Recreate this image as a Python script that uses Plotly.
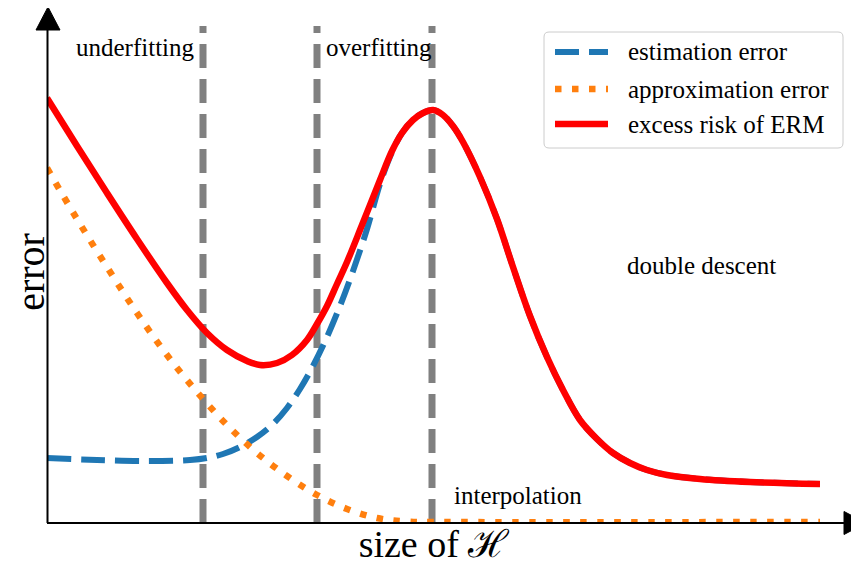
import plotly.graph_objects as go

# ---------------- data ----------------
# x: size of hypothesis class (arbitrary units), y: error (arbitrary units)
red_x = [0, 30, 60, 90, 120, 140, 160, 180, 200, 213, 230, 245, 260, 270, 280, 290,
         300, 315, 333, 345, 355, 366, 376, 386, 396, 406, 416, 433, 450, 466, 483,
         500, 516, 533, 550, 566, 583, 600, 620, 653, 703, 773]
red_y = [425, 377, 330, 284, 240, 213, 190, 173, 162, 158, 160, 168, 183, 199, 217, 239,
         261, 298, 343, 372, 390, 403, 410, 413, 408, 397, 381, 346, 304, 256, 207,
         166, 133, 103, 84, 70, 60, 53, 48, 44, 41, 39]

blue_x = [0, 50, 100, 143, 160, 176, 193, 210, 226, 240, 253, 266, 280, 293, 306, 320,
          333, 345, 355, 366, 376, 386, 396, 406, 416, 433, 450, 466, 483, 500, 516,
          533, 550, 566, 583, 600, 620, 653, 703, 773]
blue_y = [65, 63, 62, 63, 65, 69, 76, 86, 99, 115, 134, 157, 186, 217, 252, 294,
          339, 371, 390, 403, 410, 413, 408, 397, 381, 346, 304, 256, 207, 166, 133,
          103, 84, 70, 60, 53, 48, 44, 41, 39]

orange_x = [0, 30, 60, 90, 120, 150, 180, 210, 240, 270, 300, 330, 360, 400, 773]
orange_y = [355, 304, 256, 210, 168, 131, 98, 70, 47, 28, 14, 5, 1.5, 1, 1]

series_names = ["estimation error", "approximation error", "excess risk of ERM"]
regime_boundaries = [156, 270, 385]
regime_labels = ["underfitting", "overfitting", "double descent", "interpolation"]

# ---------------- layout geometry ----------------
# the page body has an 8px margin, so the figure is drawn 8px smaller and
# all reference pixel positions are shifted by that offset
OFF = 8
W, H = 859 - OFF, 565 - OFF
L, R, T, B = 47 - OFF, 39, 21 - OFF, 42
PW, PH = W - L - R, H - T - B
X_MAX, Y_MAX = PW, PH  # one data unit per pixel


def px(xp):  # reference pixel x -> paper
    return (xp - OFF - L) / PW


def py(yp):  # reference pixel y -> paper
    return (H - B - (yp - OFF)) / PH


FONT = "Liberation Serif"
BLUE, ORANGE, RED = "#1f77b4", "#ff7f0e", "#ff0000"

fig = go.Figure()
fig.add_trace(go.Scatter(x=blue_x, y=blue_y, mode="lines", name=series_names[0],
                         line=dict(color=BLUE, width=6, dash="24px,10px", shape="spline", smoothing=1),
                         showlegend=False))
fig.add_trace(go.Scatter(x=orange_x, y=orange_y, mode="lines", name=series_names[1],
                         line=dict(color=ORANGE, width=6.5, dash="6.5px,10.5px", shape="spline", smoothing=1),
                         showlegend=False))
fig.add_trace(go.Scatter(x=red_x, y=red_y, mode="lines", name=series_names[2],
                         line=dict(color=RED, width=6.5, shape="spline", smoothing=1),
                         showlegend=False))

shapes = []
# regime boundaries (dashed gray vertical lines)
for b in regime_boundaries:
    shapes.append(dict(type="line", xref="x", yref="y", x0=b, x1=b, y0=0, y1=497,
                       line=dict(color="#808080", width=7, dash="24px,11px"), layer="below"))

# axis lines with arrows
shapes.append(dict(type="line", xref="paper", yref="paper", x0=px(47.5), x1=px(47.5),
                   y0=py(523), y1=py(28), line=dict(color="black", width=2)))
shapes.append(dict(type="line", xref="paper", yref="paper", x0=px(47), x1=px(846),
                   y0=py(523), y1=py(523), line=dict(color="black", width=2)))


def tri(points):
    return "M " + " L ".join(f"{px(a):.5f},{py(b):.5f}" for a, b in points) + " Z"


shapes.append(dict(type="path", xref="paper", yref="paper",
                   path=tri([(36, 30), (60, 30), (48, 7)]),
                   fillcolor="black", line=dict(color="black", width=1)))
shapes.append(dict(type="path", xref="paper", yref="paper",
                   path=tri([(844, 511.5), (844, 534.5), (866, 523)]),
                   fillcolor="black", line=dict(color="black", width=1)))

# custom legend box (rounded)
bx0, by0, bx1, by1, r = 544, 32, 843, 148, 5
box_path = (f"M {px(bx0 + r)},{py(by0)} L {px(bx1 - r)},{py(by0)} "
            f"Q {px(bx1)},{py(by0)} {px(bx1)},{py(by0 + r)} L {px(bx1)},{py(by1 - r)} "
            f"Q {px(bx1)},{py(by1)} {px(bx1 - r)},{py(by1)} L {px(bx0 + r)},{py(by1)} "
            f"Q {px(bx0)},{py(by1)} {px(bx0)},{py(by1 - r)} L {px(bx0)},{py(by0 + r)} "
            f"Q {px(bx0)},{py(by0)} {px(bx0 + r)},{py(by0)} Z")
shapes.append(dict(type="path", xref="paper", yref="paper", path=box_path,
                   fillcolor="rgba(255,255,255,0.8)", line=dict(color="#cccccc", width=1)))

legend_rows = [52, 89, 124]
legend_styles = [dict(color=BLUE, width=6, dash="24px,10px"),
                 dict(color=ORANGE, width=6.5, dash="6.5px,10.5px"),
                 dict(color=RED, width=6.5)]
annotations = []
for name, yy, st in zip(series_names, legend_rows, legend_styles):
    shapes.append(dict(type="line", xref="paper", yref="paper", x0=px(555), x1=px(608),
                       y0=py(yy), y1=py(yy), line=st))
    annotations.append(dict(text=name, xref="paper", yref="paper", x=px(626), y=py(yy),
                            xanchor="left", yanchor="middle", showarrow=False,
                            font=dict(family=FONT, size=25, color="black")))

# regime labels
label_pos = [(74, 48), (324, 48), (625, 265), (452, 495)]
for txt, (xp, yp) in zip(regime_labels, label_pos):
    annotations.append(dict(text=txt, xref="paper", yref="paper", x=px(xp), y=py(yp),
                            xanchor="left", yanchor="middle", showarrow=False,
                            font=dict(family=FONT, size=25, color="black")))

fig.update_layout(
    width=W, height=H,
    margin=dict(l=L, r=R, t=T, b=B, pad=0),
    plot_bgcolor="white", paper_bgcolor="white",
    shapes=shapes, annotations=annotations,
    showlegend=False,
    font=dict(family=FONT, color="black"),
    xaxis=dict(range=[0, X_MAX], showgrid=False, zeroline=False, showticklabels=False,
               ticks="", showline=False, automargin=False,
               title=dict(text="size of \u210B", font=dict(family=FONT, size=38), standoff=10)),
    yaxis=dict(range=[0, Y_MAX], showgrid=False, zeroline=False, showticklabels=False,
               ticks="", showline=False, automargin=False,
               title=dict(text="error", font=dict(family=FONT, size=40), standoff=0)),
)

fig.write_html("out.html")
